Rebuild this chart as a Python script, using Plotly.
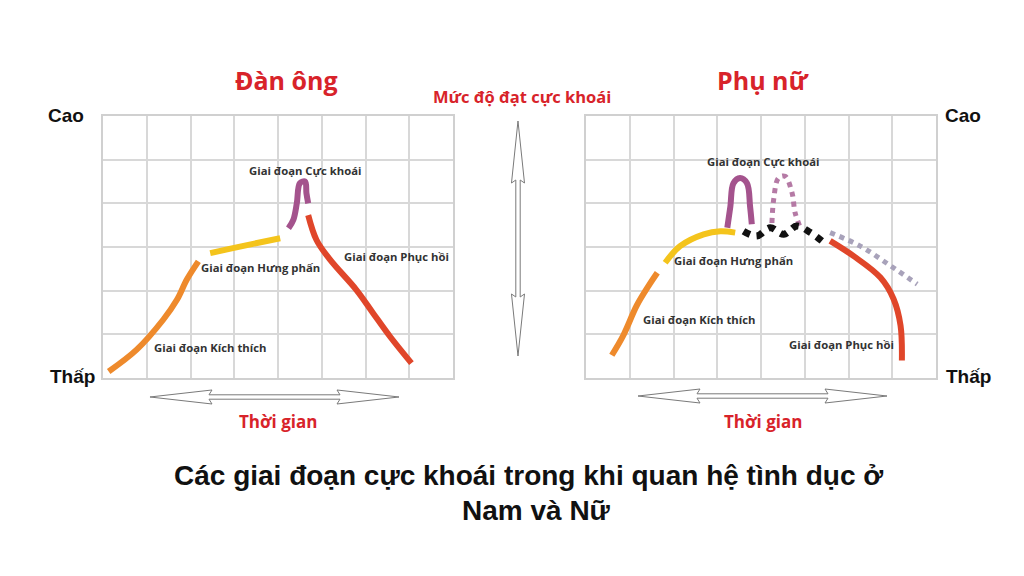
import plotly.graph_objects as go

# trang html co le 8px quanh bieu do
W, H = 1008, 560
OX, OY = 8, 8

# --- du lieu: luoi 8 cot (thoi gian) x 6 hang (muc do) ---
# Dan ong
nam_kich_thich_x = [0.13, 0.77, 1.38, 1.69, 1.92, 2.18]
nam_kich_thich_y = [0.15, 0.65, 1.34, 1.79, 2.26, 2.67]
nam_hung_phan_x = [2.45, 3.13, 4.05]
nam_hung_phan_y = [2.86, 3.01, 3.20]
nam_cuc_khoai_x = [4.24, 4.35, 4.43, 4.50, 4.62, 4.65, 4.69]
nam_cuc_khoai_y = [3.43, 3.62, 4.00, 4.46, 4.50, 4.23, 4.00]
nam_phuc_hoi_x = [4.69, 4.88, 5.19, 5.79, 6.17, 6.56, 7.05]
nam_phuc_hoi_y = [3.73, 3.16, 2.71, 2.02, 1.49, 0.95, 0.34]

# Phu nu
nu_kich_thich_x = [0.59, 0.85, 1.16, 1.43, 1.63]
nu_kich_thich_y = [0.52, 0.97, 1.66, 2.11, 2.41]
nu_hung_phan_x = [1.81, 2.15, 2.69, 3.07, 3.41]
nu_hung_phan_y = [2.64, 3.02, 3.29, 3.36, 3.33]
nu_cuc_khoai_x = [3.23, 3.30, 3.37, 3.52, 3.68, 3.75, 3.79]
nu_cuc_khoai_y = [3.44, 3.93, 4.46, 4.58, 4.46, 3.93, 3.52]
nu_cao_nguyen_x = [3.60, 3.90, 4.21, 4.52, 4.82, 5.13, 5.39]
nu_cao_nguyen_y = [3.36, 3.25, 3.44, 3.29, 3.48, 3.33, 3.14]
nu_cuc_khoai2_x = [4.25, 4.29, 4.40, 4.55, 4.71, 4.78, 4.90]
nu_cuc_khoai2_y = [3.55, 4.09, 4.58, 4.62, 4.24, 3.78, 3.44]
nu_phuc_hoi_x = [5.58, 6.12, 6.73, 7.03, 7.19, 7.22]
nu_phuc_hoi_y = [3.14, 2.79, 2.30, 1.81, 1.20, 0.40]
nu_phuc_hoi2_x = [5.58, 6.27, 6.96, 7.57]
nu_phuc_hoi2_y = [3.33, 3.02, 2.57, 2.15]

# nhan tung giai doan
nhan_nam = ["Giai đoạn Kích thích", "Giai đoạn Hưng phấn", "Giai đoạn Cực khoái", "Giai đoạn Phục hồi"]
nhan_nam_x = [2.45, 3.60, 4.62, 6.71]
nhan_nam_y = [0.71, 2.54, 4.76, 2.78]
nhan_nu_x = [2.59, 3.37, 4.06, 5.83]
nhan_nu_y = [1.35, 2.69, 4.96, 0.76]

CAM = "#ee8a2c"
VANG = "#f4c41c"
TIM = "#a4538d"
DO = "#e0462a"

fig = go.Figure()

def duong(x, y, mau, ax, dash="solid", w=6):
    fig.add_trace(go.Scatter(x=x, y=y, mode="lines", line=dict(color=mau, width=w, dash=dash, shape="spline"),
                             xaxis=ax[0], yaxis=ax[1], hoverinfo="skip", showlegend=False))

A1 = ("x", "y")
A2 = ("x2", "y2")
duong(nam_kich_thich_x, nam_kich_thich_y, CAM, A1)
duong(nam_hung_phan_x, nam_hung_phan_y, VANG, A1)
duong(nam_cuc_khoai_x, nam_cuc_khoai_y, TIM, A1)
duong(nam_phuc_hoi_x, nam_phuc_hoi_y, DO, A1)

duong(nu_kich_thich_x, nu_kich_thich_y, CAM, A2)
duong(nu_hung_phan_x, nu_hung_phan_y, VANG, A2)
duong(nu_cuc_khoai_x, nu_cuc_khoai_y, TIM, A2)
duong(nu_cuc_khoai2_x, nu_cuc_khoai2_y, "#b57aa5", A2, dash="dot", w=5)
duong(nu_cao_nguyen_x, nu_cao_nguyen_y, "#111111", A2, dash="dot", w=7)
duong(nu_phuc_hoi2_x, nu_phuc_hoi2_y, "#a8a2ba", A2, dash="dot", w=5)
duong(nu_phuc_hoi_x, nu_phuc_hoi_y, DO, A2)

def px(x):
    return (x - OX) / W

def py(y):
    return 1 - (y - OY) / H

truc = dict(showgrid=True, gridcolor="#d8d8d8", gridwidth=1.5, dtick=1, showline=True, linecolor="#d0d0d0",
            linewidth=1.5, mirror=True, showticklabels=False, zeroline=False, ticks="", fixedrange=True)
y_dom = [py(378), py(116)]
fig.update_layout(
    xaxis=dict(truc, range=[0, 8], domain=[px(103), px(453)]),
    yaxis=dict(truc, range=[0, 6], domain=y_dom),
    xaxis2=dict(truc, range=[0, 8], domain=[px(586), px(936)], anchor="y2"),
    yaxis2=dict(truc, range=[0, 6], domain=y_dom, anchor="x2"),
)

ann = []
f_nho = dict(family="Open Sans", size=11.3, color="#333333", weight="bold")
for t, x, y in zip(nhan_nam, nhan_nam_x, nhan_nam_y):
    ann.append(dict(text=t, x=x, y=y, xref="x", yref="y", showarrow=False, font=f_nho))
for t, x, y in zip(nhan_nam, nhan_nu_x, nhan_nu_y):
    ann.append(dict(text=t, x=x, y=y, xref="x2", yref="y2", showarrow=False, font=f_nho))

def chu(t, x, y, size, mau, fam="Open Sans"):
    ann.append(dict(text=t, x=px(x), y=py(y), xref="paper", yref="paper", showarrow=False,
                    font=dict(family=fam, size=size, color=mau, weight="bold"), xanchor="center", yanchor="middle"))

RED = "#d8232a"
chu("Đàn ông", 286, 80, 25, RED)
chu("Phụ nữ", 763, 80, 25, RED)
chu("Mức độ đạt cực khoái", 522, 96, 16.5, RED)
chu("Thời gian", 278, 421, 17, RED)
chu("Thời gian", 763, 421, 17, RED)
chu("Cao", 66, 115, 19, "#111111", "Liberation Sans")
chu("Thấp", 72, 376, 19, "#111111", "Liberation Sans")
chu("Cao", 963, 115, 19, "#111111", "Liberation Sans")
chu("Thấp", 968, 376, 19, "#111111", "Liberation Sans")
chu("Các giai đoạn cực khoái trong khi quan hệ tình dục ở", 528, 475, 28, "#111111", "Liberation Sans")
chu("Nam và Nữ", 536, 510, 28, "#111111", "Liberation Sans")


def mui_ten(x0, y0, x1, y1, head=62, shaft=2.2, wing=7):
    L = ((x1 - x0) ** 2 + (y1 - y0) ** 2) ** 0.5
    ux, uy = (x1 - x0) / L, (y1 - y0) / L
    nx, ny = -uy, ux
    pts = [(0, 0), (head, wing), (head - 3, shaft), (L - head + 3, shaft), (L - head, wing), (L, 0),
           (L - head, -wing), (L - head + 3, -shaft), (head - 3, -shaft), (head, -wing)]
    s = []
    for a, b in pts:
        s.append(f"{px(x0 + a * ux + b * nx):.5f},{py(y0 + a * uy + b * ny):.5f}")
    return dict(type="path", xref="paper", yref="paper", path="M " + " L ".join(s) + " Z",
                line=dict(color="#7a7a7a", width=1), fillcolor="white")

fig.update_layout(
    shapes=[mui_ten(150, 397, 399, 397), mui_ten(638, 396, 887, 396), mui_ten(518, 121, 518, 356, wing=6.5)],
    annotations=ann,
    width=W, height=H, margin=dict(l=0, r=0, t=0, b=0),
    paper_bgcolor="white", plot_bgcolor="white", showlegend=False,
)

fig.write_html("out.html")
